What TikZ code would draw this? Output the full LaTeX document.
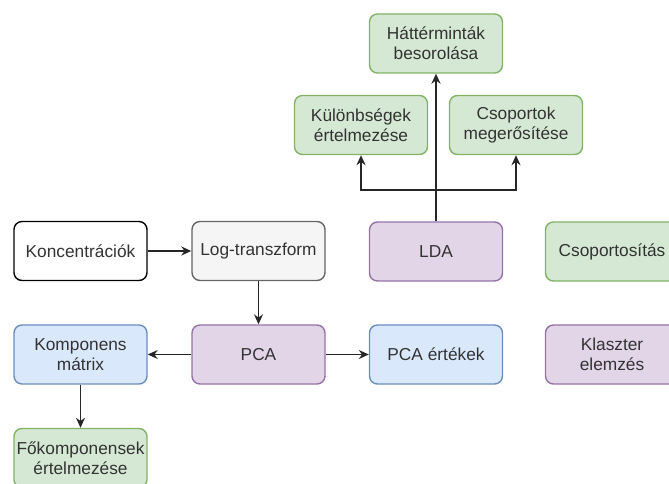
\documentclass[tikz,border=0pt]{standalone}
\usepackage{fontspec}
\setmainfont{Liberation Sans}
\usetikzlibrary{arrows.meta}
\definecolor{gfill}{HTML}{D5E8D4}\definecolor{gdraw}{HTML}{82B366}
\definecolor{bfill}{HTML}{DAE8FC}\definecolor{bdraw}{HTML}{6C8EBF}
\definecolor{pfill}{HTML}{E1D5E7}\definecolor{pdraw}{HTML}{9673A6}
\definecolor{sfill}{HTML}{F5F5F5}\definecolor{sdraw}{HTML}{666666}
\definecolor{txt}{HTML}{333333}
\begin{document}
\begin{tikzpicture}[x=1pt,y=-1pt,
  box/.style={draw, line width=1.4pt, rounded corners=8pt, minimum width=133pt, minimum height=59pt,
    inner sep=0pt, align=center, text=txt, font=\fontsize{17.3}{20}\selectfont},
  wbox/.style={box, draw=black, fill=white},
  sbox/.style={box, draw=sdraw, fill=sfill},
  gbox/.style={box, draw=gdraw, fill=gfill},
  bbox/.style={box, draw=bdraw, fill=bfill},
  pbox/.style={box, draw=pdraw, fill=pfill},
  arr/.style={line width=1.6pt, draw=black!85, -{Stealth[length=10pt,width=9pt]}}]
\useasboundingbox (0,0) rectangle (669,484);
\clip (0,0) rectangle (669,484);
\node[wbox] (konc) at (80.5,251) {Koncentrációk};
\node[sbox] (log) at (258.5,251) {Log-transzform};
\node[pbox] (pca) at (258.5,354.5) {PCA};
\node[bbox] (komp) at (80.5,354.5) {Komponens\\mátrix};
\node[gbox] (fok) at (80.5,458) {Főkomponensek\\értelmezése};
\node[bbox] (pcae) at (436,354.5) {PCA értékek};
\node[pbox] (lda) at (436,251.5) {LDA};
\node[gbox] (csop) at (612,251.5) {Csoportosítás};
\node[pbox] (klas) at (612,354.5) {Klaszter\\elemzés};
\node[gbox] (hatt) at (436,43.5) {Háttérminták\\besorolása};
\node[gbox] (kul) at (361,125) {Különbségek\\értelmezése};
\node[gbox] (csm) at (516,125) {Csoportok\\megerősítése};
\coordinate (j) at (436,190);
\draw[arr] (konc) -- (log);
\draw[arr] (log) -- (pca);
\draw[arr] (pca) -- (komp);
\draw[arr] (pca) -- (pcae);
\draw[arr] (komp) -- (fok);
\draw[arr] (lda) -- (hatt);
\draw[arr] (j) -| (kul);
\draw[arr] (j) -| (csm);
\end{tikzpicture}
\end{document}
